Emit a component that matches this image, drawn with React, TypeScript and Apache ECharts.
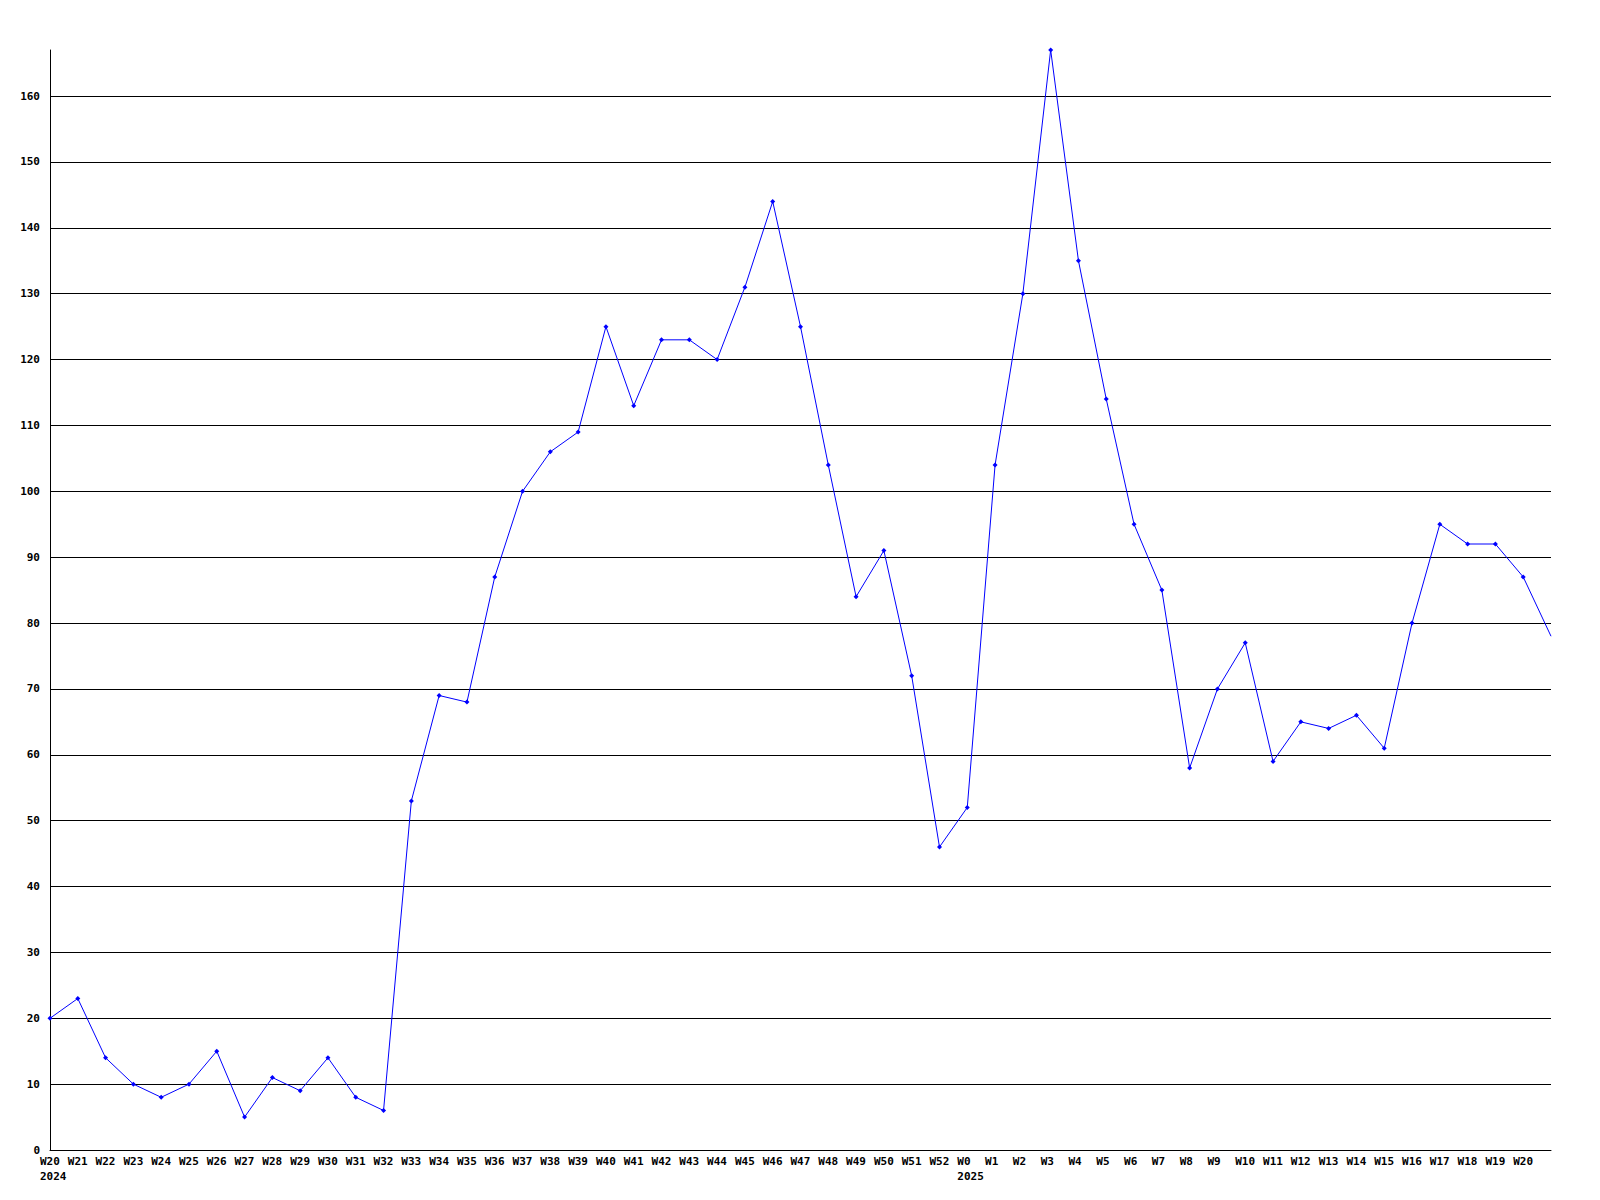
import React, { useEffect, useRef } from "react";
import * as echarts from "echarts";

const weekLabels: string[] = [
  "W20\n2024", "W21", "W22", "W23", "W24", "W25", "W26", "W27", "W28", "W29", "W30",
  "W31", "W32", "W33", "W34", "W35", "W36", "W37", "W38", "W39", "W40",
  "W41", "W42", "W43", "W44", "W45", "W46", "W47", "W48", "W49", "W50",
  "W51", "W52", "W0\n2025", "W1", "W2", "W3", "W4", "W5", "W6", "W7", "W8", "W9",
  "W10", "W11", "W12", "W13", "W14", "W15", "W16", "W17", "W18", "W19", "W20", "",
];

const counts: number[] = [
  20, 23, 14, 10, 8, 10, 15, 5, 11, 9, 14,
  8, 6, 53, 69, 68, 87, 100, 106, 109, 125,
  113, 123, 123, 120, 131, 144, 125, 104, 84, 91,
  72, 46, 52, 104, 130, 167, 135, 114, 95, 85, 58, 70,
  77, 59, 65, 64, 66, 61, 80, 95, 92, 92, 87, 78,
];

const yMax = 167;

export default function App() {
  const ref = useRef<HTMLDivElement>(null);
  useEffect(() => {
    if (!ref.current) return;
    const chart = echarts.init(ref.current, null, { renderer: "svg" });
    const font = {
      fontFamily: "DejaVu Sans Mono",
      fontWeight: "bold" as const,
      fontSize: 11,
      color: "#000",
    };
    chart.setOption({
      animation: false,
      backgroundColor: "#fff",
      grid: { left: 50, top: 50, right: 49, bottom: 50, containLabel: false },
      xAxis: {
        type: "category",
        boundaryGap: false,
        data: weekLabels,
        axisLine: { show: true, lineStyle: { color: "#000", width: 1 } },
        axisTick: { show: false },
        splitLine: { show: false },
        axisLabel: {
          ...font,
          interval: 0,
          align: "left",
          padding: [0, 0, 0, -10],
          margin: 4,
          lineHeight: 15,
        },
      },
      yAxis: {
        type: "value",
        min: 0,
        max: yMax,
        interval: 10,
        axisLine: { show: true, lineStyle: { color: "#000", width: 1 } },
        axisTick: { show: false },
        splitLine: {
          show: true,
          showMinLine: false,
          showMaxLine: false,
          lineStyle: { color: "#000", width: 1 },
        },
        axisLabel: { ...font, margin: 10, showMaxLabel: false },
      },
      series: [
        {
          type: "line",
          data: counts.map((v, i) =>
            i === counts.length - 1 ? { value: v, symbol: "none" } : v
          ),
          symbol: "diamond",
          symbolSize: 5,
          color: "#0000ff",
          itemStyle: { color: "#0000ff" },
          lineStyle: { color: "#0000ff", width: 1 },
          clip: true,
        },
      ],
    });
    return () => chart.dispose();
  }, []);
  return (
    <div
      ref={ref}
      style={{ position: "fixed", left: 0, top: 0, width: 1600, height: 1200, background: "#fff" }}
    />
  );
}
